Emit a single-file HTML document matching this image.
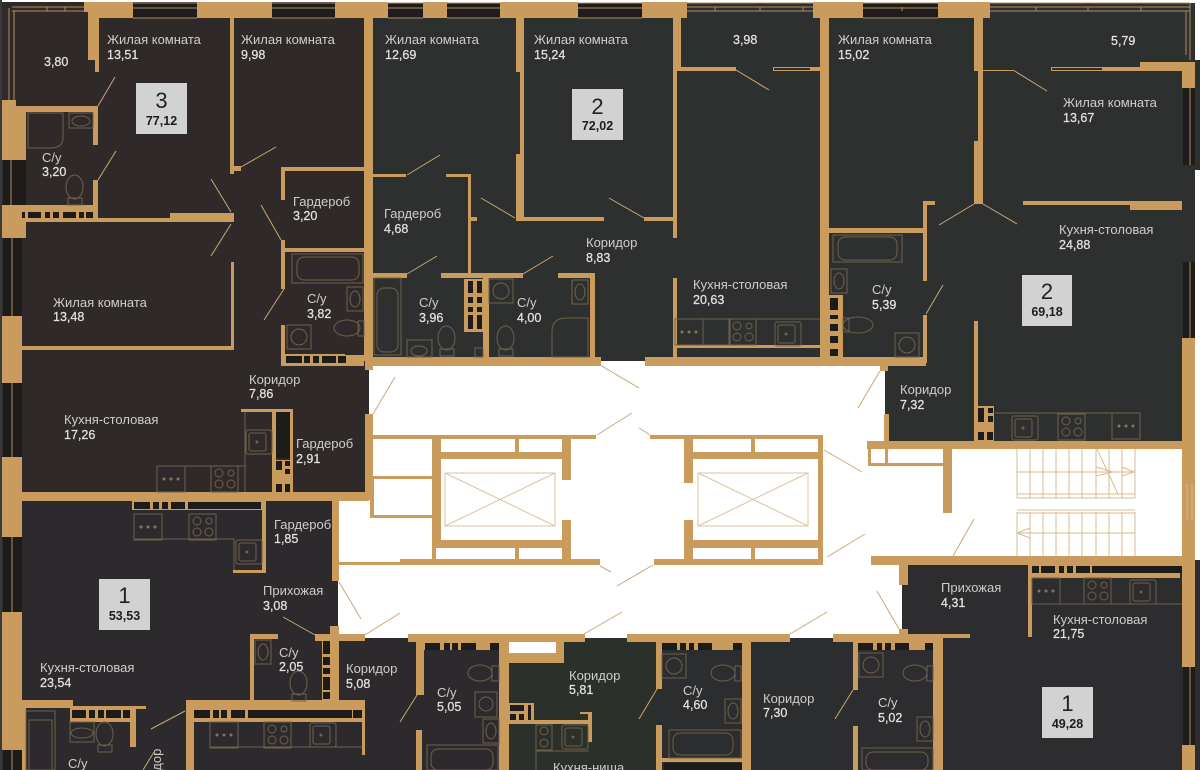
<!DOCTYPE html>
<html><head><meta charset="utf-8"><style>
html,body{margin:0;padding:0;background:#fff;width:1200px;height:770px;overflow:hidden}
svg{display:block}
text{font-family:"Liberation Sans",sans-serif;font-size:13px;fill:#cfcdcb}
.n{font-size:12.5px;fill:#e4e2df;stroke:#e4e2df;stroke-width:.25}
.bd{fill:#d2d2d2}
.bn{font-size:22px;fill:#222;text-anchor:middle}
.ba{font-size:12.5px;font-weight:700;fill:#1c1c1c;text-anchor:middle}
</style></head><body>
<svg width="1200" height="770" viewBox="0 0 1200 770" xmlns="http://www.w3.org/2000/svg">
<defs>
<g id="stove" fill="none" stroke="#6f604a"><rect x="0" y="0" width="27" height="26"/><circle cx="8" cy="7" r="4"/><circle cx="20" cy="7" r="3"/><circle cx="8" cy="18" r="4"/><circle cx="20" cy="18" r="4"/></g>
<g id="oven" fill="none" stroke="#6f604a"><rect x="0" y="0" width="28" height="26"/><circle cx="7" cy="13" r="1.5" fill="#8a7657" stroke="none"/><circle cx="14" cy="13" r="1.5" fill="#8a7657" stroke="none"/><circle cx="21" cy="13" r="1.5" fill="#8a7657" stroke="none"/></g>
<g id="sink" fill="none" stroke="#6f604a"><rect x="0" y="0" width="26" height="24" rx="2"/><rect x="3" y="3" width="17" height="18" rx="2"/><circle cx="11" cy="12" r="1" fill="#8a7657"/></g>
<g id="wc" fill="none" stroke="#6f604a"><ellipse cx="8.500" cy="12" rx="8.500" ry="12"/><rect x="2" y="23" width="14" height="7"/></g>
<g id="wm" fill="none" stroke="#6f604a"><rect x="0" y="0" width="24" height="24"/><circle cx="12" cy="12" r="8"/></g>
<g id="bs" fill="none" stroke="#6f604a"><rect x="0" y="0" width="16" height="24"/><ellipse cx="8" cy="12" rx="5" ry="8"/></g>
</defs>

<rect width="1200" height="770" fill="#fff"/>
<!-- apartment fills -->
<rect x="2" y="2" width="368" height="494" fill="#2f2a29"/>
<rect x="368" y="3" width="827" height="360" fill="#2e3030"/>
<rect x="885" y="360" width="297" height="84" fill="#2e3030"/>
<path d="M2 495H338V638H508V770H2Z" fill="#2d2a2e"/>
<path d="M508 638H656V770H508Z" fill="#2c302b"/>
<path d="M656 638H902V560H1195V770H656Z" fill="#2d2c2f"/>
<rect x="656" y="638" width="190" height="132" fill="#2c2d2e"/>
<rect x="0" y="0" width="2" height="770" fill="#3a3a3a"/>
<rect x="1195" y="60" width="5" height="110" fill="#2e3030"/>
<rect x="1195" y="560" width="5" height="210" fill="#2d2c2f"/>

<!-- white lobby -->
<path d="M369 361H885V441H868V466H943V449H1182V556H871V560H902V636H338V498H369Z" fill="#fff"/>
<rect x="509" y="637" width="47" height="16" fill="#fff"/>

<!-- top windows -->
<g fill="#1f1d1c">
<rect x="133" y="3" width="64" height="15"/><rect x="272" y="3" width="63" height="15"/><rect x="388" y="3" width="35" height="15"/><rect x="447" y="3" width="53" height="15"/><rect x="578" y="3" width="64" height="15"/><rect x="863" y="3" width="75" height="15"/>
</g>
<path d="M133 8H197M133 3H197M272 8H335M272 3H335M388 8H423M388 3H423M447 8H500M447 3H500M578 8H642M578 3H642M863 8H938M863 3H938M133 18H197M272 18H335M388 18H423M447 18H500M578 18H642M863 18H938M687 3H813M687 7H813M687 11H813M990 3H1190M990 7H1190M990 11H1190M1190 3V60M1186 11V55M12 11H84M12 7H84M9 8V100M14 11V100" stroke="#b08d5b" stroke-width="1" fill="none"/>
<path d="M715 7V11M760 7V11M803 7V11M902 7V11M1036 7V11M1088 7V11M1141 7V11M47 7V11M65 7V11" stroke="#b08d5b" fill="none"/>

<!-- walls -->
<path fill="#c99b5c" d="
M84 2H133V18H99V72H95V60H88V12H84Z
M197 2H272V18H197Z
M335 2H388V18H335Z
M423 2H447V18H423Z
M500 2H578V18H500Z
M642 2H687V18H642Z
M813 2H863V18H813Z
M938 2H990V18H938Z
M2 100H16V106H98V112H26V160H2Z
M93 112H98V145H93Z
M93 180H98V206H93Z
M2 205H26V238H2Z
M22 205H98V222H22Z
M98 218H234V222H98Z
M170 213H234V222H170Z
M230 18H234V174H230Z
M230 166H241V171H230Z
M281 167H364V171H285V200H281Z
M281 240H285V289H281Z
M281 248H364V252H281Z
M364 18H373V361H364Z
M231 262H234V350H231Z
M2 316H22V383H2Z
M2 457H22V537H2Z
M2 612H22V750H2Z
M22 492H369V501H22Z
M281 325H285V355H364V366H281Z
M365 361H373V370H365Z
M365 414H373V495H365Z
M241 409H293V412H241Z
M272 412H276V492H272Z
M290 412H293V492H290Z
M262 501H266V573H233V570H262Z
M332 495H339V581H332Z
M330 626H339V634H365V641H339V710H332V641H315V634H330Z
M250 634H278V639H254V700H250Z
M186 700H365V755H362V710H194V770H186Z
M194 718H362V722H194Z
M22 700H73V708H26V770H22Z
M73 706H146V709H136V747H130V722H70V718H73Z
M408 634H585V642H424V695H416V642H408Z
M416 730H422V770H416Z
M499 642H509V770H499Z
M556 642H564V663H509V653H556Z
M509 720H592V724H509Z
M588 712H592V742H588Z
M580 712H592V714H580Z
M627 634H790V642H662V689H656V642H627Z
M656 725H662V770H656Z
M742 642H751V770H742Z
M662 758H742V762H662Z
M833 634H970V638H943V770H933V642H858V690H853V642H833Z
M853 726H858V770H853Z
M899 560H908V585H899Z
M899 629H908V635H899Z
M871 556H1182V565H871Z
M1028 565H1032V637H1028Z
M1032 573H1180V578H1032Z
M1182 449H1195V667H1182Z
M1182 745H1195V770H1182Z
M1182 338H1195V483H1182Z
M1140 62H1195V88H1182V71H1140Z
M974 18H983V70H1013V71H983V204H974V141H978V71H974Z
M1103 67H1140V71H1103Z
M1023 201H1182V205H1023Z
M1130 205H1182V210H1130Z
M820 2H829V358H820Z
M811 67H820V71H811Z
M923 201H935V205H927V281H923Z
M829 228H923V233H829Z
M923 315H927V363H923Z
M645 357H926V366H645Z
M372 357H601V366H372Z
M880 363H888V371H880Z
M884 414H889V441H884Z
M867 441H1182V449H867Z
M868 449H871V466H868Z
M885 449H888V463H885Z
M868 463H943V466H868Z
M943 449H952V513H943Z
M974 321H978V441H974Z
M516 18H524V72H516Z
M520 72H524V154H520Z
M516 154H524V221H516Z
M524 217H604V221H524Z
M644 217H673V221H644Z
M673 18H681V67H736V71H677V238H673Z
M372 174H406V177H372Z
M446 174H471V217H477V221H471V275H468V177H446Z
M372 273H407V278H372Z
M441 273H523V278H441Z
M558 273H595V278H558Z
M483 278H489V358H483Z
M590 274H595V358H590Z
M673 278H677V358H673Z
M676 345H820V348H676Z
M368 435H596V439H368Z
M432 439H441V548H432Z
M441 452H563V459H441Z
M562 439H571V480H562Z
M562 520H571V562H562Z
M441 540H563V548H441Z
M400 559H600V565H400Z
M339 562H400V565H339Z
M432 548H436V560H432Z
M515 439H519V452H515Z
M515 548H519V559H515Z
M368 476H432V479H368Z
M370 515H432V518H370Z
M370 479H374V515H370Z
M650 435H823V439H650Z
M684 439H693V483H684Z
M693 452H823V459H693Z
M684 520H693V562H684Z
M693 540H823V548H693Z
M654 559H823V565H654Z
M751 439H755V452H751Z
M751 548H755V559H751Z
M818 435H823V565H818Z
M339 495H370V500H339Z
M22 346H234V350H22Z
"/>

<!-- shelf blocks -->
<g fill="#c99b5c">
<rect x="285" y="354" width="60" height="11"/>
<rect x="464" y="279" width="20" height="53"/>
<rect x="829" y="295" width="14" height="62"/>
<rect x="978" y="406" width="16" height="35"/>
<rect x="275" y="460" width="17" height="33"/>
<rect x="322" y="640" width="10" height="60"/>
<rect x="70" y="708" width="66" height="12"/>
<rect x="194" y="710" width="168" height="9"/>
<rect x="424" y="642" width="75" height="8"/>
<rect x="662" y="642" width="80" height="8"/>
<rect x="858" y="642" width="75" height="8"/>
<rect x="1032" y="565" width="150" height="8"/>
<rect x="132" y="501" width="131" height="9"/>
<rect x="509" y="703" width="25" height="17"/>
</g>
<g fill="#1e1c1b">
<rect x="22" y="212" width="3" height="6"/><rect x="28" y="212" width="13" height="6"/><rect x="45" y="212" width="5" height="6"/><rect x="53" y="212" width="6" height="6"/><rect x="63" y="212" width="13" height="6"/><rect x="79" y="212" width="5" height="6"/><rect x="86" y="212" width="7" height="6"/>
<rect x="286" y="356" width="16" height="7"/><rect x="304" y="356" width="6" height="7"/><rect x="313" y="356" width="6" height="7"/><rect x="322" y="356" width="14" height="7"/><rect x="338" y="356" width="8" height="7"/>
<rect x="468" y="281" width="5" height="12"/><rect x="477" y="281" width="5" height="12"/><rect x="468" y="297" width="5" height="6"/><rect x="477" y="297" width="5" height="6"/><rect x="468" y="307" width="5" height="5"/><rect x="477" y="307" width="5" height="5"/><rect x="468" y="315" width="5" height="14"/><rect x="477" y="315" width="5" height="14"/>
<rect x="830" y="298" width="8" height="12"/><rect x="830" y="315" width="8" height="4"/><rect x="830" y="324" width="8" height="7"/><rect x="830" y="336" width="8" height="7"/><rect x="830" y="349" width="8" height="7"/>
<rect x="978" y="408" width="6" height="14"/><rect x="988" y="408" width="5" height="5"/><rect x="988" y="416" width="5" height="6"/><rect x="978" y="432" width="6" height="8"/><rect x="987" y="432" width="6" height="8"/>
<rect x="276" y="412" width="14" height="46"/><rect x="276" y="461" width="6" height="9"/><rect x="285" y="461" width="5" height="5"/><rect x="285" y="469" width="5" height="5"/><rect x="276" y="484" width="6" height="8"/><rect x="285" y="484" width="5" height="8"/>
<rect x="323" y="641" width="7" height="13"/><rect x="323" y="657" width="7" height="8"/><rect x="323" y="668" width="7" height="6"/><rect x="323" y="677" width="7" height="13"/><rect x="323" y="692" width="7" height="7"/>
<rect x="72" y="710" width="14" height="8"/><rect x="89" y="710" width="6" height="8"/><rect x="98" y="710" width="6" height="8"/><rect x="106" y="710" width="15" height="8"/><rect x="123" y="710" width="7" height="8"/>
<rect x="194" y="710" width="16" height="8"/><rect x="213" y="710" width="6" height="8"/><rect x="221" y="710" width="6" height="8"/><rect x="231" y="710" width="14" height="8"/><rect x="248" y="710" width="104" height="8"/><rect x="353" y="710" width="9" height="8"/>
<rect x="425" y="643" width="15" height="7"/><rect x="444" y="643" width="6" height="7"/><rect x="452" y="643" width="6" height="7"/><rect x="461" y="643" width="15" height="7"/><rect x="490" y="643" width="9" height="7"/>
<rect x="662" y="643" width="15" height="7"/><rect x="680" y="643" width="6" height="7"/><rect x="689" y="643" width="5" height="7"/><rect x="698" y="643" width="14" height="7"/><rect x="733" y="643" width="9" height="7"/>
<rect x="858" y="643" width="15" height="7"/><rect x="877" y="643" width="5" height="7"/><rect x="885" y="643" width="6" height="7"/><rect x="895" y="643" width="14" height="7"/><rect x="925" y="643" width="8" height="7"/>
<rect x="1032" y="566" width="7" height="7"/><rect x="1041" y="566" width="14" height="7"/><rect x="1059" y="566" width="5" height="7"/><rect x="1067" y="566" width="6" height="7"/><rect x="1076" y="566" width="14" height="7"/><rect x="1092" y="566" width="90" height="7"/>
<rect x="134" y="502" width="16" height="7"/><rect x="153" y="502" width="6" height="7"/><rect x="162" y="502" width="6" height="7"/><rect x="171" y="502" width="14" height="7"/><rect x="188" y="502" width="73" height="7"/>
<rect x="510" y="705" width="14" height="6"/><rect x="510" y="714" width="6" height="6"/><rect x="519" y="714" width="5" height="6"/><rect x="528" y="705" width="3" height="15"/>
<rect x="664" y="763" width="78" height="7"/>
<rect x="1183" y="88" width="12" height="77"/><rect x="1183" y="262" width="12" height="76"/><rect x="1183" y="667" width="12" height="78"/>
<rect x="3" y="160" width="23" height="45"/><rect x="3" y="238" width="19" height="78"/><rect x="3" y="383" width="19" height="74"/><rect x="3" y="537" width="19" height="75"/><rect x="3" y="750" width="19" height="20"/>
</g>
<path d="M11 160V205M12 238V316M12 383V457M12 537V612M12 750V770M1190 88V165M1190 262V338M1190 667V745" stroke="#b08d5b" fill="none"/>
<rect x="1051.500" y="67.500" width="51" height="3" fill="none" stroke="#c99b5c"/>
<rect x="773.500" y="67.500" width="37" height="3" fill="none" stroke="#c99b5c"/>

<!-- fixtures -->
<g fill="none" stroke="#6f604a">
<path d="M28 113H63V138Q63 148 50 148H28Z"/>
<rect x="69" y="113" width="24" height="15"/><ellipse cx="81" cy="121" rx="9" ry="5"/>
<use href="#wc" x="66" y="175"/>
<rect x="292" y="254" width="71" height="29"/><rect x="297" y="257" width="62" height="23" rx="7"/>
<use href="#bs" x="347" y="287"/>
<use href="#wm" x="287" y="325"/>
<ellipse cx="347" cy="328" rx="13" ry="8"/><rect x="358" y="321" width="6" height="15"/>
<rect x="374" y="278" width="27" height="77"/><rect x="377" y="288" width="21" height="64" rx="7"/>
<rect x="407" y="340" width="25" height="17"/><ellipse cx="419" cy="351" rx="8" ry="5"/>
<use href="#wc" x="438" y="326"/>
<rect x="475" y="348" width="8" height="9"/>
<use href="#wc" x="497" y="326"/>
<use href="#wm" x="489" y="279"/>
<use href="#bs" x="572" y="280"/>
<path d="M552 357V332Q552 318 566 318H588V357Z"/>
<rect x="833" y="235" width="69" height="27"/><rect x="838" y="237" width="59" height="23" rx="7"/>
<use href="#bs" x="831" y="269"/>
<ellipse cx="858" cy="325" rx="15" ry="8"/><rect x="843" y="318" width="6" height="14"/>
<use href="#wm" x="895" y="333"/>
<use href="#oven" x="675" y="319"/><rect x="703" y="319" width="27" height="26"/><use href="#stove" x="729" y="319"/><use href="#sink" x="775" y="322"/>
<path d="M676 319H820"/>
<use href="#oven" x="157" y="466"/><use href="#stove" x="211" y="466"/><path d="M186 466H245V412M245 466V492"/><use href="#sink" x="246" y="430"/>
<use href="#sink" x="1012" y="416"/><use href="#stove" x="1058" y="414"/><use href="#oven" x="1112" y="413"/><path d="M995 413H1140"/>
<use href="#oven" x="134" y="514"/><use href="#stove" x="189" y="514"/><path d="M134 539H234V570M134 514V539"/><use href="#sink" x="236" y="540"/>
<use href="#bs" x="255" y="640"/>
<use href="#wc" x="290" y="671"/>
<use href="#oven" x="210" y="722"/><use href="#stove" x="264" y="722"/><use href="#sink" x="310" y="723"/><path d="M210 747H362"/>
<rect x="70" y="722" width="24" height="20"/><ellipse cx="82" cy="733" rx="11" ry="5"/>
<use href="#wc" x="96" y="722"/>
<rect x="26" y="711" width="29" height="59"/>
<rect x="29" y="720" width="23" height="50"/>
<ellipse cx="480" cy="673" rx="12" ry="8"/><rect x="492" y="666" width="7" height="15"/>
<rect x="475" y="692" width="22" height="25"/><circle cx="486" cy="704" r="7"/>
<use href="#bs" x="483" y="719"/>
<rect x="427" y="745" width="71" height="25"/><rect x="431" y="749" width="62" height="21" rx="7"/>
<rect x="536" y="725" width="16" height="25"/><circle cx="544" cy="731" r="4"/><circle cx="544" cy="743" r="4"/>
<use href="#sink" x="562" y="725"/>
<path d="M536 751H589M536 724V770"/>
<use href="#wm" x="662" y="654"/>
<ellipse cx="723" cy="673" rx="12" ry="8"/><rect x="735" y="666" width="6" height="15"/>
<use href="#bs" x="725" y="699"/>
<rect x="669" y="730" width="72" height="28"/><rect x="673" y="733" width="60" height="22" rx="7"/>
<use href="#wm" x="859" y="653"/>
<ellipse cx="915" cy="673" rx="12" ry="8"/><rect x="927" y="666" width="6" height="15"/>
<use href="#bs" x="917" y="717"/>
<rect x="862" y="748" width="71" height="22"/><rect x="866" y="752" width="62" height="18" rx="7"/>
<use href="#oven" x="1032" y="578"/><use href="#stove" x="1084" y="578"/><use href="#sink" x="1130" y="580"/>
<path d="M1032 604H1182"/>
</g>

<!-- elevators -->
<g fill="none" stroke="#dcc29d" stroke-width="1">
<rect x="445" y="473" width="110" height="53"/><path d="M445 473L555 526M445 526L555 473"/>
<rect x="698" y="473" width="110" height="53"/><path d="M698 473L808 526M698 526L808 473"/>
</g>

<!-- stairs -->
<g fill="none" stroke="#d9bb91" stroke-width="1">
<path d="M1017 449V498M1030 449V498M1043 449V498M1056 449V498M1069 449V498M1082 449V498M1096 449V498M1109 449V498M1122 449V498M1135 449V498"/>
<path d="M1017 512V556M1030 512V556M1043 512V556M1056 512V556M1069 512V556M1082 512V556M1096 512V556M1109 512V556M1122 512V556M1135 512V556"/>
<path d="M1017 472H1135M1017 494H1135M1017 498H1135M1017 510H1135M1017 513H1135M1017 533H1135"/>
<path d="M1097 449L1118 494M1096 467L1113 472L1096 476M1122 467L1134 472L1122 476M1030 528L1017 533L1030 538"/>
</g>
<path d="M1187 484V520M1192 484V520" stroke="#d9bb91" fill="none"/>

<!-- door swings -->
<path fill="none" stroke="#c9a777" stroke-width="1" d="
M98 106L115 77M98 180L116 151M241 167L276 147M231 212L211 179M231 224L211 256M281 240L261 205M284 289L264 320
M407 175L440 155M515 218L481 198M644 218L609 198M736 70L769 90M1013 70L1047 91M939 225L974 204M1017 224L983 204
M407 274L437 256M523 274L553 256M600 365L639 388M632 413L597 435M639 428L650 435M373 414L395 377
M880 371L858 408M824 450L862 472M926 314L943 285M600 566L611 572M653 565L617 586M584 634L622 612M790 634L827 612
M827 557L865 534M953 556L974 519M899 629L877 591M339 582L361 619M365 635L400 613M315 635L283 617M185 711L151 729
M143 770L154 752M417 695L400 722M657 689L639 719M853 690L835 719"/>

<!-- badges -->
<rect class="bd" x="136" y="83" width="51" height="51"/>
<rect class="bd" x="572" y="89" width="51" height="51"/>
<rect class="bd" x="1022" y="275" width="50" height="51"/>
<rect class="bd" x="99" y="579" width="51" height="51"/>
<rect class="bd" x="1042" y="687" width="51" height="51"/>
<text class="bn" x="161.500" y="108">3</text><text class="ba" x="161.500" y="125">77,12</text>
<text class="bn" x="597.500" y="114">2</text><text class="ba" x="597.500" y="130">72,02</text>
<text class="bn" x="1047" y="299">2</text><text class="ba" x="1047" y="316">69,18</text>
<text class="bn" x="124.500" y="603">1</text><text class="ba" x="124.500" y="620">53,53</text>
<text class="bn" x="1067.500" y="711">1</text><text class="ba" x="1067.500" y="728">49,28</text>

<!-- labels -->
<text class="n" x="44" y="66">3,80</text>
<text x="107" y="44">Жилая комната</text><text class="n" x="107" y="59">13,51</text>
<text x="241" y="44">Жилая комната</text><text class="n" x="241" y="59">9,98</text>
<text x="385" y="44">Жилая комната</text><text class="n" x="385" y="59">12,69</text>
<text x="534" y="44">Жилая комната</text><text class="n" x="534" y="59">15,24</text>
<text class="n" x="733" y="44">3,98</text>
<text x="838" y="44">Жилая комната</text><text class="n" x="838" y="59">15,02</text>
<text class="n" x="1111" y="45">5,79</text>
<text x="1063" y="107">Жилая комната</text><text class="n" x="1063" y="122">13,67</text>
<text x="1059" y="234">Кухня-столовая</text><text class="n" x="1059" y="249">24,88</text>
<text x="42" y="162">С/у</text><text class="n" x="42" y="176">3,20</text>
<text x="293" y="206">Гардероб</text><text class="n" x="293" y="220">3,20</text>
<text x="384" y="218">Гардероб</text><text class="n" x="384" y="233">4,68</text>
<text x="586" y="247">Коридор</text><text class="n" x="586" y="262">8,83</text>
<text x="693" y="289">Кухня-столовая</text><text class="n" x="693" y="304">20,63</text>
<text x="307" y="303">С/у</text><text class="n" x="307" y="318">3,82</text>
<text x="419" y="307">С/у</text><text class="n" x="419" y="322">3,96</text>
<text x="517" y="307">С/у</text><text class="n" x="517" y="322">4,00</text>
<text x="872" y="294">С/у</text><text class="n" x="872" y="309">5,39</text>
<text x="53" y="307">Жилая комната</text><text class="n" x="53" y="321">13,48</text>
<text x="249" y="384">Коридор</text><text class="n" x="249" y="398">7,86</text>
<text x="64" y="424">Кухня-столовая</text><text class="n" x="64" y="439">17,26</text>
<text x="296" y="448">Гардероб</text><text class="n" x="296" y="463">2,91</text>
<text x="900" y="394">Коридор</text><text class="n" x="900" y="409">7,32</text>
<text x="274" y="529">Гардероб</text><text class="n" x="274" y="543">1,85</text>
<text x="263" y="595">Прихожая</text><text class="n" x="263" y="610">3,08</text>
<text x="279" y="657">С/у</text><text class="n" x="279" y="671">2,05</text>
<text x="346" y="673">Коридор</text><text class="n" x="346" y="688">5,08</text>
<text x="40" y="672">Кухня-столовая</text><text class="n" x="40" y="687">23,54</text>
<text x="68" y="768">С/у</text>
<text x="161" y="800" transform="rotate(-90 161 800)">Коридор</text>
<text x="437" y="697">С/у</text><text class="n" x="437" y="711">5,05</text>
<text x="569" y="680">Коридор</text><text class="n" x="569" y="694">5,81</text>
<text x="683" y="695">С/у</text><text class="n" x="683" y="709">4,60</text>
<text x="763" y="703">Коридор</text><text class="n" x="763" y="717">7,30</text>
<text x="878" y="707">С/у</text><text class="n" x="878" y="722">5,02</text>
<text x="553" y="772">Кухня-ниша</text>
<text x="941" y="592">Прихожая</text><text class="n" x="941" y="607">4,31</text>
<text x="1053" y="624">Кухня-столовая</text><text class="n" x="1053" y="638">21,75</text>
</svg>
</body></html>
